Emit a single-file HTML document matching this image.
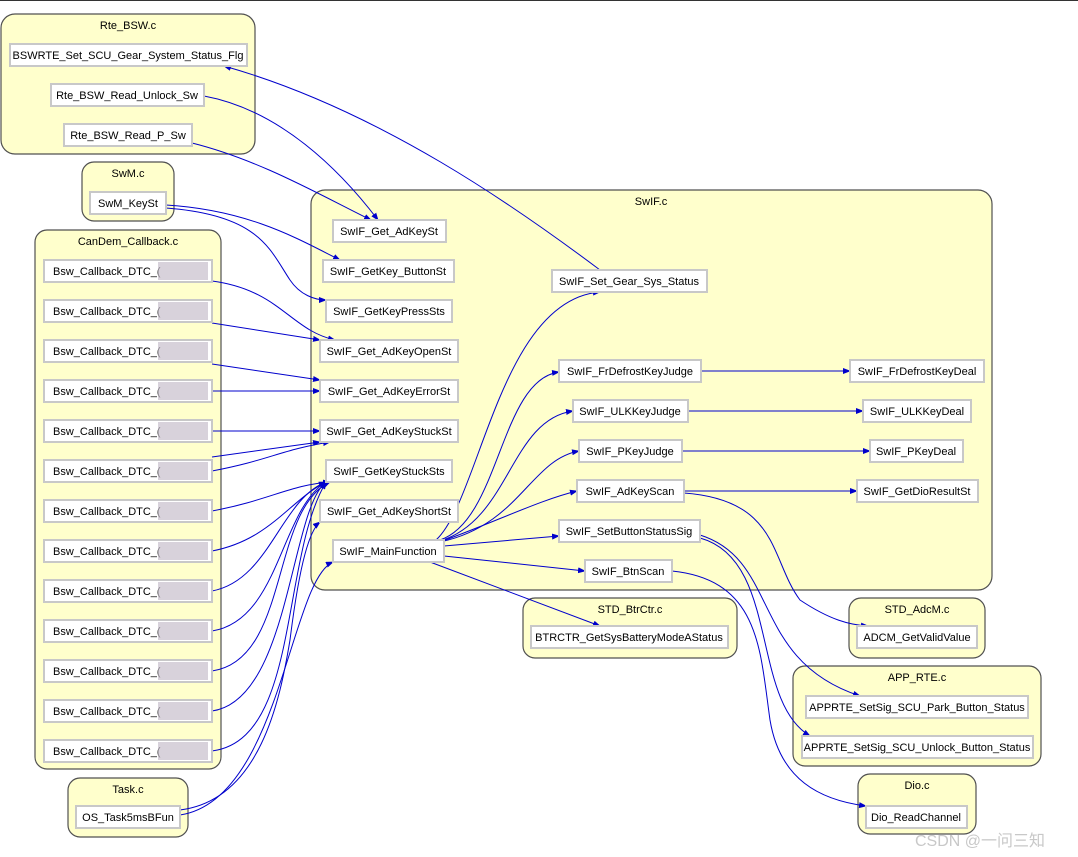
<!DOCTYPE html>
<html><head><meta charset="utf-8"><style>
html,body{margin:0;padding:0;background:#fff;}
svg{display:block;font-family:"Liberation Sans",Arial,sans-serif;font-size:11px;}
.c{fill:#ffffcc;stroke:#505050;stroke-width:1.2;}
.n{fill:#fff;stroke:#c8c8c8;stroke-width:2;}
.e{fill:none;stroke:#0000cc;stroke-width:1;}
text{fill:#000;}
</style></head><body>
<svg width="1078" height="857" viewBox="0 0 1078 857">
<defs><marker id="a" markerWidth="8" markerHeight="6" refX="7" refY="3" orient="auto" markerUnits="userSpaceOnUse"><path d="M0,0 L8,3 L0,6z" fill="#0000cc"/></marker></defs>
<line x1="0" y1="0.5" x2="1078" y2="0.5" stroke="#333" stroke-width="1"/>
<!-- clusters -->
<rect class="c" x="1" y="14" width="254" height="140" rx="14"/>
<text x="128" y="29" text-anchor="middle">Rte_BSW.c</text>
<rect class="c" x="82" y="162" width="92" height="59" rx="12"/>
<text x="128" y="177" text-anchor="middle">SwM.c</text>
<rect class="c" x="35" y="230" width="186" height="539" rx="12"/>
<text x="128" y="245" text-anchor="middle">CanDem_Callback.c</text>
<rect class="c" x="311" y="190" width="681" height="400" rx="14"/>
<text x="651" y="205" text-anchor="middle">SwIF.c</text>
<rect class="c" x="523" y="598" width="214" height="60" rx="12"/>
<text x="630" y="613" text-anchor="middle">STD_BtrCtr.c</text>
<rect class="c" x="849" y="598" width="136" height="60" rx="12"/>
<text x="917" y="613" text-anchor="middle">STD_AdcM.c</text>
<rect class="c" x="793" y="666" width="248" height="100" rx="12"/>
<text x="917" y="681" text-anchor="middle">APP_RTE.c</text>
<rect class="c" x="858" y="774" width="118" height="60" rx="12"/>
<text x="917" y="789" text-anchor="middle">Dio.c</text>
<rect class="c" x="68" y="778" width="120" height="59" rx="12"/>
<text x="128" y="793" text-anchor="middle">Task.c</text>
<!-- edges -->
<g class="e" marker-end="url(#a)">
<path d="M600,270 C520,210 380,110 224,66"/>
<path d="M204,96 C280,110 340,170 378,220"/>
<path d="M192,143 C260,160 320,195 371,220"/>
<path d="M166,205 C250,210 300,240 340,260"/>
<path d="M166,208 C260,215 270,250 290,280 C300,295 315,300 326,300"/>
<path d="M212,281 C280,290 290,330 335,340"/>
<path d="M212,323 L320,340"/>
<path d="M212,364 L320,380"/>
<path d="M212,391 L320,391"/>
<path d="M212,431 L320,431"/>
<path d="M212,457 L320,442"/>
<path d="M212,471 C270,460 280,450 330,442"/>
<path d="M212,511 C270,500 290,485 330,482"/>
<path d="M212,551 C270,540 290,500 326,482"/>
<path d="M212,591 C270,580 280,500 326,482"/>
<path d="M212,631 C280,620 280,510 326,482"/>
<path d="M212,671 C290,660 270,510 330,482"/>
<path d="M212,711 C290,700 290,510 326,482"/>
<path d="M212,751 C300,740 280,560 326,482"/>
<path d="M180,810 C260,800 280,700 290,640 C300,560 310,530 320,522"/>
<path d="M180,815 C280,800 290,580 333,562"/>
<path d="M436,540 C480,500 500,300 600,292"/>
<path d="M440,540 C500,520 500,380 559,372"/>
<path d="M440,541 C510,520 510,420 573,411"/>
<path d="M440,542 C520,525 530,460 579,451"/>
<path d="M440,542 C500,520 540,500 577,491"/>
<path d="M444,546 L559,536"/>
<path d="M444,556 L585,571"/>
<path d="M430,562 L600,626"/>
<path d="M701,371 L850,371"/>
<path d="M688,411 L863,411"/>
<path d="M682,451 L870,451"/>
<path d="M684,491 L857,491"/>
<path d="M684,493 C780,500 770,560 800,600 C830,620 850,625 868,626"/>
<path d="M700,535 C780,560 750,660 860,696"/>
<path d="M700,538 C780,560 750,700 810,736"/>
<path d="M672,571 C760,580 760,650 770,720 C780,780 820,800 866,806"/>
</g>
<!-- nodes -->
<g>
<rect class="n" x="10" y="44" width="237" height="22"/><text x="128" y="59" text-anchor="middle">BSWRTE_Set_SCU_Gear_System_Status_Flg</text>
<rect class="n" x="51" y="84" width="153" height="22"/><text x="127" y="99" text-anchor="middle">Rte_BSW_Read_Unlock_Sw</text>
<rect class="n" x="64" y="124" width="128" height="22"/><text x="128" y="139" text-anchor="middle">Rte_BSW_Read_P_Sw</text>
<rect class="n" x="90" y="192" width="76" height="22"/><text x="128" y="207" text-anchor="middle">SwM_KeySt</text>
</g>
<g>
<rect class="n" x="44" y="260" width="168" height="22"/><text x="53" y="275">Bsw_Callback_DTC_(</text>
<rect class="n" x="44" y="300" width="168" height="22"/><text x="53" y="315">Bsw_Callback_DTC_(</text>
<rect class="n" x="44" y="340" width="168" height="22"/><text x="53" y="355">Bsw_Callback_DTC_(</text>
<rect class="n" x="44" y="380" width="168" height="22"/><text x="53" y="395">Bsw_Callback_DTC_(</text>
<rect class="n" x="44" y="420" width="168" height="22"/><text x="53" y="435">Bsw_Callback_DTC_(</text>
<rect class="n" x="44" y="460" width="168" height="22"/><text x="53" y="475">Bsw_Callback_DTC_(</text>
<rect class="n" x="44" y="500" width="168" height="22"/><text x="53" y="515">Bsw_Callback_DTC_(</text>
<rect class="n" x="44" y="540" width="168" height="22"/><text x="53" y="555">Bsw_Callback_DTC_(</text>
<rect class="n" x="44" y="580" width="168" height="22"/><text x="53" y="595">Bsw_Callback_DTC_(</text>
<rect class="n" x="44" y="620" width="168" height="22"/><text x="53" y="635">Bsw_Callback_DTC_(</text>
<rect class="n" x="44" y="660" width="168" height="22"/><text x="53" y="675">Bsw_Callback_DTC_(</text>
<rect class="n" x="44" y="700" width="168" height="22"/><text x="53" y="715">Bsw_Callback_DTC_(</text>
<rect class="n" x="44" y="740" width="168" height="22"/><text x="53" y="755">Bsw_Callback_DTC_(</text>
</g>
<g fill="#c8c0cc" opacity="0.7">
<rect x="158" y="262" width="50" height="18"/><rect x="158" y="302" width="50" height="18"/><rect x="158" y="342" width="50" height="18"/><rect x="158" y="382" width="50" height="18"/><rect x="158" y="422" width="50" height="18"/><rect x="158" y="462" width="50" height="18"/><rect x="158" y="502" width="50" height="18"/><rect x="158" y="542" width="50" height="18"/><rect x="158" y="582" width="50" height="18"/><rect x="158" y="622" width="50" height="18"/><rect x="158" y="662" width="50" height="18"/><rect x="158" y="702" width="50" height="18"/><rect x="158" y="742" width="50" height="18"/>
</g>
<g>
<rect class="n" x="333" y="220" width="113" height="22"/><text x="389" y="235" text-anchor="middle">SwIF_Get_AdKeySt</text>
<rect class="n" x="323" y="260" width="131" height="22"/><text x="388" y="275" text-anchor="middle">SwIF_GetKey_ButtonSt</text>
<rect class="n" x="326" y="300" width="126" height="22"/><text x="389" y="315" text-anchor="middle">SwIF_GetKeyPressSts</text>
<rect class="n" x="320" y="340" width="138" height="22"/><text x="389" y="355" text-anchor="middle">SwIF_Get_AdKeyOpenSt</text>
<rect class="n" x="320" y="380" width="138" height="22"/><text x="389" y="395" text-anchor="middle">SwIF_Get_AdKeyErrorSt</text>
<rect class="n" x="320" y="420" width="138" height="22"/><text x="389" y="435" text-anchor="middle">SwIF_Get_AdKeyStuckSt</text>
<rect class="n" x="326" y="460" width="126" height="22"/><text x="389" y="475" text-anchor="middle">SwIF_GetKeyStuckSts</text>
<rect class="n" x="320" y="500" width="138" height="22"/><text x="389" y="515" text-anchor="middle">SwIF_Get_AdKeyShortSt</text>
<rect class="n" x="333" y="540" width="111" height="22"/><text x="388" y="555" text-anchor="middle">SwIF_MainFunction</text>
<rect class="n" x="552" y="270" width="155" height="22"/><text x="629" y="285" text-anchor="middle">SwIF_Set_Gear_Sys_Status</text>
<rect class="n" x="559" y="360" width="142" height="22"/><text x="630" y="375" text-anchor="middle">SwIF_FrDefrostKeyJudge</text>
<rect class="n" x="573" y="400" width="115" height="22"/><text x="630" y="415" text-anchor="middle">SwIF_ULKKeyJudge</text>
<rect class="n" x="579" y="440" width="103" height="22"/><text x="630" y="455" text-anchor="middle">SwIF_PKeyJudge</text>
<rect class="n" x="577" y="480" width="107" height="22"/><text x="630" y="495" text-anchor="middle">SwIF_AdKeyScan</text>
<rect class="n" x="559" y="520" width="141" height="22"/><text x="629" y="535" text-anchor="middle">SwIF_SetButtonStatusSig</text>
<rect class="n" x="585" y="560" width="87" height="22"/><text x="628" y="575" text-anchor="middle">SwIF_BtnScan</text>
<rect class="n" x="850" y="360" width="134" height="22"/><text x="917" y="375" text-anchor="middle">SwIF_FrDefrostKeyDeal</text>
<rect class="n" x="863" y="400" width="108" height="22"/><text x="917" y="415" text-anchor="middle">SwIF_ULKKeyDeal</text>
<rect class="n" x="870" y="440" width="93" height="22"/><text x="916" y="455" text-anchor="middle">SwIF_PKeyDeal</text>
<rect class="n" x="857" y="480" width="121" height="22"/><text x="917" y="495" text-anchor="middle">SwIF_GetDioResultSt</text>
<rect class="n" x="531" y="626" width="197" height="22"/><text x="629" y="641" text-anchor="middle">BTRCTR_GetSysBatteryModeAStatus</text>
<rect class="n" x="857" y="626" width="120" height="22"/><text x="917" y="641" text-anchor="middle">ADCM_GetValidValue</text>
<rect class="n" x="806" y="696" width="222" height="22"/><text x="917" y="711" text-anchor="middle">APPRTE_SetSig_SCU_Park_Button_Status</text>
<rect class="n" x="802" y="736" width="231" height="22"/><text x="917" y="751" text-anchor="middle">APPRTE_SetSig_SCU_Unlock_Button_Status</text>
<rect class="n" x="76" y="806" width="104" height="22"/><text x="128" y="821" text-anchor="middle">OS_Task5msBFun</text>
<rect class="n" x="866" y="806" width="101" height="22"/><text x="916" y="821" text-anchor="middle">Dio_ReadChannel</text>
</g>
<text x="915" y="846" style="font-size:16px;fill:#c8c8c8;font-family:'Liberation Sans','Noto Sans CJK SC',sans-serif">CSDN @一问三知</text>
</svg>
</body></html>
